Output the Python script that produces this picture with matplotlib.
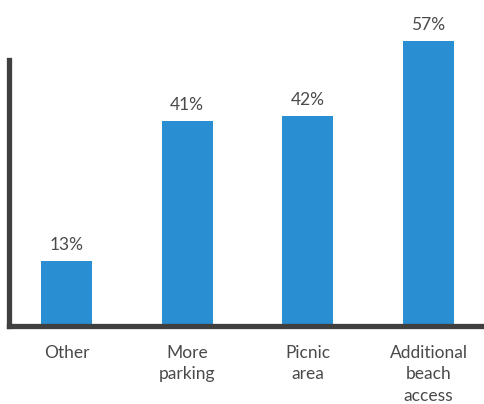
import matplotlib.pyplot as plt

categories = ['Other', 'More\nparking', 'Picnic\narea', 'Additional\nbeach\naccess']
values = [13, 41, 42, 57]
value_labels = ['13%', '41%', '42%', '57%']

bar_color = '#2A8FD2'
axis_color = '#3F3F3F'
text_color = '#4A4A4A'

plt.rcParams['font.family'] = ['Lato', 'DejaVu Sans']

W, H = 484, 404
fig = plt.figure(figsize=(W / 100, H / 100), dpi=100)

# axes box in pixels: left spine at x~8.5, baseline at y~325.5 from top
x0, y0 = 8.5, 325.5
ax = fig.add_axes([x0 / W, (H - y0) / H, (W - x0) / W, y0 / H])

px_per_unit = 4.99
step = 120.67
ax.set_ylim(0, y0 / px_per_unit)
ax.set_xlim((x0 - 66.5) / step, (W - 66.5) / step)

pos = list(range(len(categories)))
bars = ax.bar(pos, values, width=51 / step, color=bar_color, zorder=2)

for b, lab in zip(bars, value_labels):
    ax.annotate(lab, (b.get_x() + b.get_width() / 2, b.get_height()),
                xytext=(0, 5.5), textcoords='offset points',
                ha='center', va='bottom', fontsize=12.5, color=text_color)

for s in ['top', 'right']:
    ax.spines[s].set_visible(False)
for s in ['left', 'bottom']:
    ax.spines[s].set_color(axis_color)
    ax.spines[s].set_linewidth(3.8)
    ax.spines[s].set_zorder(3)
ax.spines['left'].set_bounds(0, (y0 - 60) / px_per_unit)

ax.set_yticks([])
ax.set_xticks(pos)
ax.set_xticklabels(categories, fontsize=12.5, color=text_color, linespacing=1.42)
ax.tick_params(axis='x', length=0, pad=14)

fig.savefig('out.png', dpi=100)
